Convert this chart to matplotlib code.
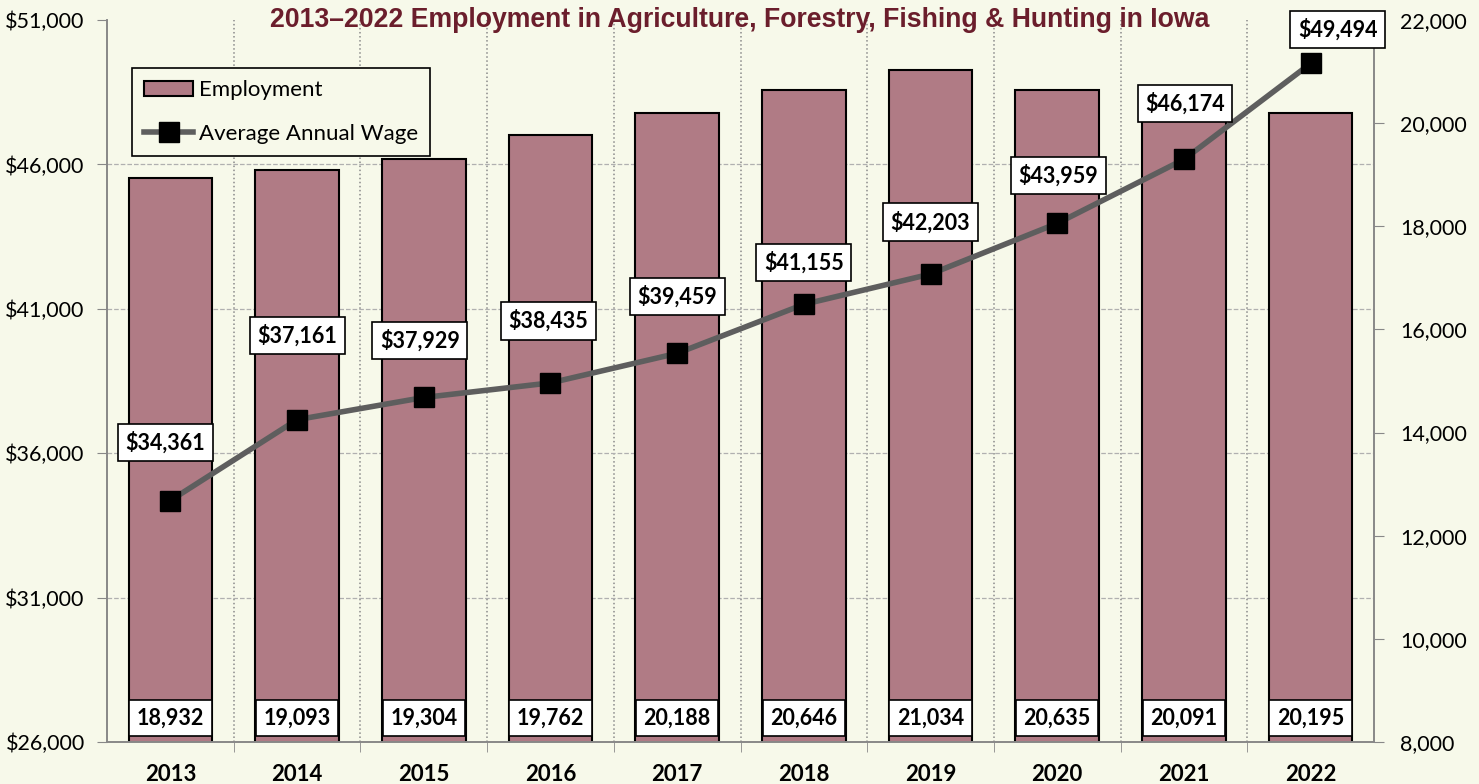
import matplotlib
matplotlib.use('Agg')
import matplotlib.pyplot as plt
import numpy as np

# Data
years = ['2013', '2014', '2015', '2016', '2017', '2018', '2019', '2020', '2021', '2022']
employment = [18932, 19093, 19304, 19762, 20188, 20646, 21034, 20635, 20091, 20195]
wage = [34361, 37161, 37929, 38435, 39459, 41155, 42203, 43959, 46174, 49494]

# label offsets (pixels) for the wage boxes, as placed in the original
wage_dx = [-5, 0, -4, -2, 0, 0, 0, 1, 1, 27]
wage_dy = [58, 84, 57, 62, 57, 42, 52, 48, 56, 34]

bg = '#F7F9EA'
bar_col = '#B07B85'
line_col = '#5E5E5E'
title_col = '#6B1E2C'
font = ['Lato', 'DejaVu Sans']
plt.rcParams['font.family'] = font

fig = plt.figure(figsize=(14.79, 7.84), dpi=100, facecolor=bg)
ax = fig.add_axes([107/1479, 1 - 742/784, (1374-107)/1479, (742-20)/784])
ax.set_facecolor(bg)
ax2 = ax.twinx()

x = np.arange(len(years))

# Employment bars on the right axis
bars = ax.bar(x, employment, width=0.66, color=bar_col, edgecolor='black',
              linewidth=1.5, label='Employment', zorder=2)
ax.set_ylim(8000, 22000)
ax.set_xlim(-0.5, len(years) - 0.5)
ax.yaxis.tick_right()
ax.yaxis.set_label_position('right')
ax.set_yticks(np.arange(8000, 22001, 2000))
ax.set_yticklabels([f'{v:,}' for v in range(8000, 22001, 2000)], fontsize=15.5)
ax.tick_params(axis='y', which='major', direction='out', length=7, color='#888888', pad=12)

# Wage line on the left axis
wticks = np.arange(26000, 51001, 5000)
ax2.yaxis.tick_left()
ax2.set_ylim(26000, 51000)
ax2.set_yticks(wticks)
ax2.set_yticklabels([f'${v:,}' for v in wticks], fontsize=15.5)
ax2.tick_params(axis='y', direction='out', length=7, color='#888888', pad=9)
ln, = ax2.plot(x, wage, color=line_col, linewidth=4, marker='s', markersize=14,
               markerfacecolor='black', markeredgecolor='black',
               label='Average Annual Wage', zorder=3)

# horizontal grid at wage ticks, drawn behind the bars
emp_grid = 8000 + (wticks - 26000) / 25000 * 14000
ax.set_yticks(emp_grid, minor=True)
ax.grid(True, which='minor', axis='y', linestyle='--', color='#B0B0B0', linewidth=0.9, zorder=0)
# vertical dotted grid between categories
ax.set_xticks(x)
ax.set_xticklabels(years, fontsize=16, fontweight='bold')
ax.set_xticks(x[:-1] + 0.5, minor=True)
ax.grid(True, which='minor', axis='x', linestyle=':', color='#8A8A8A', linewidth=1.1, zorder=0)
ax.tick_params(axis='x', which='major', length=0, pad=16)
ax.tick_params(axis='x', which='minor', direction='out', length=7, color='#888888')
ax.tick_params(axis='y', which='minor', length=0)
ax.set_axisbelow(True)

for a in (ax, ax2):
    a.spines['top'].set_visible(False)
    for s in ('left', 'right', 'bottom'):
        a.spines[s].set_color('#888888')
        a.spines[s].set_linewidth(1.2)

# Employment labels near the bottom of each bar
for xi, v in zip(x, employment):
    ax.annotate(f'{v:,}', (xi, 0.033), xycoords=('data', 'axes fraction'),
                ha='center', va='center', fontsize=15.5, fontweight='bold', zorder=5,
                bbox=dict(boxstyle='square,pad=0.35', fc='white', ec='black', lw=1.2))

# Wage labels above the markers
for xi, v, dx, dy in zip(x, wage, wage_dx, wage_dy):
    ax2.annotate(f'${v:,}', (xi, v), xytext=(dx * 0.72, dy * 0.72), textcoords='offset points',
                 ha='center', va='center', fontsize=15.5, fontweight='bold', zorder=6,
                 bbox=dict(boxstyle='square,pad=0.35', fc='white', ec='black', lw=1.2))

fig.text(0.5, 1 - 20/784, '2013\u20132022 Employment in Agriculture, Forestry, Fishing & Hunting in Iowa',
         ha='center', va='center', fontsize=19.2, fontweight='bold', color=title_col,
         family=['Liberation Sans', 'DejaVu Sans'])

leg = ax2.legend([bars, ln], ['Employment', 'Average Annual Wage'],
                 loc='upper left', bbox_to_anchor=(25/1267, 1 - 48/722), borderaxespad=0,
                 fontsize=16, frameon=True, fancybox=False, edgecolor='black',
                 facecolor=bg, framealpha=1, labelspacing=1.05, handlelength=2.2,
                 handletextpad=0.25, borderpad=0.55)
leg.get_frame().set_linewidth(1.2)

fig.savefig('out.png', dpi=100, facecolor=bg)
